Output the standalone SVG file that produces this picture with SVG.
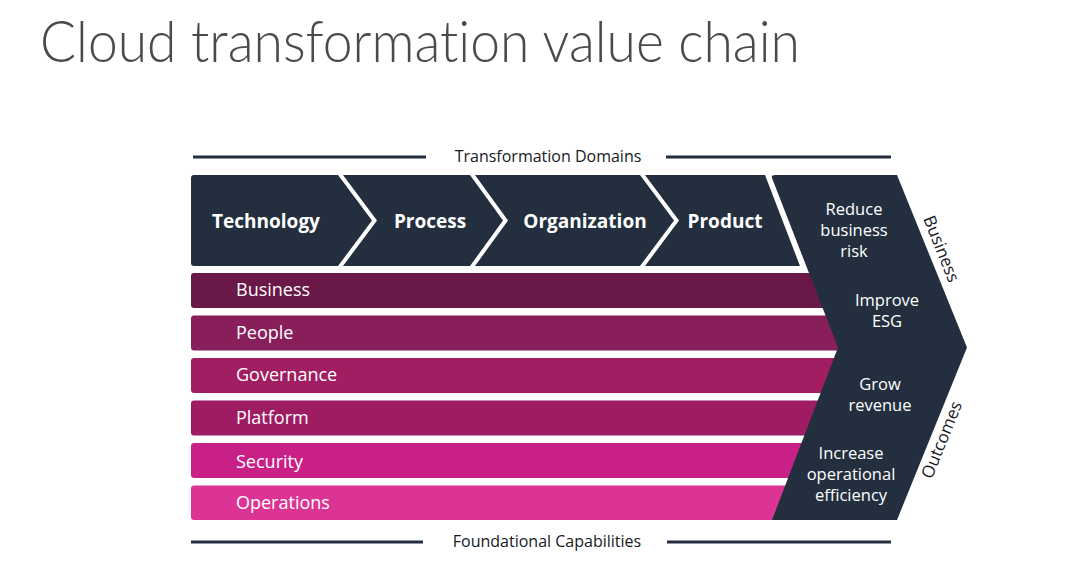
<svg xmlns="http://www.w3.org/2000/svg" width="1068" height="567" viewBox="0 0 1068 567">
<style>
.dk{fill:#232f3e}
.hd{font-family:"Open Sans","DejaVu Sans",sans-serif;font-weight:700;font-size:19px;fill:#fff;text-anchor:middle}
.bl{font-family:"Open Sans","DejaVu Sans",sans-serif;font-size:18px;fill:#fff}
.oc{font-family:"Open Sans","DejaVu Sans",sans-serif;font-size:16.5px;fill:#fff;text-anchor:middle}
.cap{font-family:"Open Sans","DejaVu Sans",sans-serif;font-size:16px;fill:#16191f;text-anchor:middle}
.side{font-family:"Open Sans","DejaVu Sans",sans-serif;font-size:17px;fill:#16191f;text-anchor:middle}
.rule{stroke:#232f3e;stroke-width:3;fill:none}
.title{font-family:Lato,"Open Sans",sans-serif;font-weight:300;font-size:58px;fill:#4a4a4a;font-variant-ligatures:none}
</style>
<rect width="1068" height="567" fill="#fff"/>
<text class="title" x="40" y="62" textLength="760" lengthAdjust="spacingAndGlyphs">Cloud transformation value chain</text>

<g id="rules">
<line class="rule" x1="193" y1="157" x2="426" y2="157"/>
<line class="rule" x1="666" y1="157" x2="891" y2="157"/>
<line class="rule" x1="191" y1="542" x2="423" y2="542"/>
<line class="rule" x1="667" y1="542" x2="891" y2="542"/>
</g>
<text class="cap" x="548" y="162">Transformation Domains</text>
<text class="cap" x="547" y="547">Foundational Capabilities</text>

<g id="technology"><path class="dk" d="M194,175 H338 L372,220.5 L338,266 H194 Q191,266 191,263 V178 Q191,175 194,175 Z"/><text class="hd" x="266" y="228">Technology</text></g>
<g id="process"><path class="dk" d="M343,175 H470 L503,220.5 L470,266 H343 L377,220.5 Z"/><text class="hd" x="430" y="228">Process</text></g>
<g id="organization"><path class="dk" d="M475,175 H640 L674,220.5 L640,266 H475 L508,220.5 Z"/><text class="hd" x="585" y="228">Organization</text></g>
<g id="product"><path class="dk" d="M645,175 H765 L800,266 H645 L679,220.5 Z"/><text class="hd" x="725" y="228">Product</text></g>

<g id="business"><rect x="191" y="273" width="660" height="35" rx="3" fill="#691847"/><text class="bl" x="236" y="296">Business</text></g>
<g id="people"><rect x="191" y="315.5" width="660" height="35" rx="3" fill="#881f5b"/><text class="bl" x="236" y="339">People</text></g>
<g id="governance"><rect x="191" y="358" width="660" height="35" rx="3" fill="#a11e63"/><text class="bl" x="236" y="381">Governance</text></g>
<g id="platform"><rect x="191" y="400.5" width="660" height="35" rx="3" fill="#9e1d62"/><text class="bl" x="236" y="424">Platform</text></g>
<g id="security"><rect x="191" y="443" width="660" height="35" rx="3" fill="#c92088"/><text class="bl" x="236" y="468">Security</text></g>
<g id="operations"><rect x="191" y="485.5" width="610" height="34.5" rx="3" fill="#dc3494"/><text class="bl" x="236" y="509">Operations</text></g>

<g id="outcomes">
<path class="dk" d="M775,175 H897 L967,347.5 L897,520 H772 L838,347.5 L772,178 Q771,175 775,175 Z"/>
<text class="oc" x="854" y="215">Reduce</text>
<text class="oc" x="854" y="236">business</text>
<text class="oc" x="854" y="257">risk</text>
<text class="oc" x="887" y="306">Improve</text>
<text class="oc" x="887" y="327">ESG</text>
<text class="oc" x="880" y="390">Grow</text>
<text class="oc" x="880" y="411">revenue</text>
<text class="oc" x="851" y="459">Increase</text>
<text class="oc" x="851" y="480">operational</text>
<text class="oc" x="851" y="501">efficiency</text>
<text class="side" transform="translate(936,251) rotate(68)">Business</text>
<text class="side" transform="translate(947,442) rotate(-68)">Outcomes</text>
</g>
</svg>
